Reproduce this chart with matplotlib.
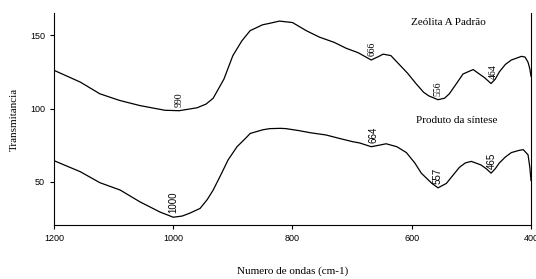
import matplotlib.pyplot as plt

# Espectros de infravermelho (leitura aproximada do gráfico)
top_wn = [1200, 1156, 1123, 1090, 1056, 1014, 990, 960, 945, 933, 915, 900, 885, 871, 850,
          838, 822, 800, 777, 755, 730, 710, 690, 668, 655, 648, 635, 621, 607, 593, 580,
          571, 556, 545, 537, 525, 514, 497, 485, 478, 467, 460, 453, 443, 433, 416, 410,
          405, 402, 400]
top_t = [126, 118, 110, 105.5, 102, 98.8, 98.5, 100.5, 103, 107, 120, 136, 146, 153, 157,
         158, 159.5, 158.5, 153, 148.6, 145, 141, 138, 133, 135.5, 137, 136, 130, 124, 117, 111,
         108.5, 106, 107, 110, 117, 123.5, 126.5, 123, 121, 117, 120, 125, 130, 133, 135.5, 135,
         131.5, 127, 122]

bot_wn = [1200, 1156, 1123, 1089, 1056, 1022, 1000, 985, 972, 955, 943, 933, 920, 908, 893,
          878, 871, 850, 838, 820, 811, 790, 770, 744, 720, 700, 687, 668, 655, 643, 625,
          609, 595, 584, 567, 556, 542, 530, 520, 510, 500, 484, 475, 467, 460, 453, 443,
          433, 420, 413, 405, 402, 400]
bot_t = [64.5, 57, 49.5, 44.5, 36.5, 29.5, 26, 26.8, 28.8, 32, 38, 44.5, 55, 65, 74,
         80, 83, 85.5, 86.3, 86.5, 86.3, 85, 83.5, 82, 79.5, 77.5, 76.5, 74, 75, 76, 74,
         70, 63, 56, 49.3, 46, 49, 55, 60, 63, 64, 61.6, 59, 56, 59, 63, 67,
         70, 71.5, 72, 68.5, 60, 51]

top_peaks = [990, 666, 556, 464]
top_peak_t = [98.5, 133, 106, 117]
bot_peaks = [1000, 664, 557, 465]
bot_peak_t = [26, 74, 46, 56]

fig = plt.figure(figsize=(5.36, 2.79), dpi=100)
ax = fig.add_axes([0.1007, 0.1935, 0.89, 0.7599])

ax.plot(top_wn, top_t, color='black', linewidth=0.9)
ax.plot(bot_wn, bot_t, color='black', linewidth=0.9)

for wn, t in zip(top_peaks, top_peak_t):
    ax.annotate(str(wn), (wn, t), xytext=(0, 3), textcoords='offset points',
                rotation=90, ha='center', va='bottom', fontsize=7, family='Liberation Serif')
for wn, t in zip(bot_peaks, bot_peak_t):
    ax.annotate(str(wn), (wn, t), xytext=(0, 3), textcoords='offset points',
                rotation=90, ha='center', va='bottom', fontsize=7, family='Liberation Sans')

ax.text(539, 158.8, 'Zeólita A Padrão', ha='center', va='center', fontsize=8, family='Liberation Serif')
ax.text(524, 92, 'Produto da síntese', ha='center', va='center', fontsize=8, family='Liberation Serif')

ax.set_xlim(1200, 400)
ax.set_ylim(20.7, 165)
ax.set_xticks([1200, 1000, 800, 600, 400])
ax.set_yticks([50, 100, 150])
ax.tick_params(labelsize=6.5, length=3, width=0.8)
for lbl in ax.get_xticklabels() + ax.get_yticklabels():
    lbl.set_family('Liberation Sans')

ax.spines['top'].set_visible(False)
for s in ['left', 'right', 'bottom']:
    ax.spines[s].set_linewidth(0.8)

ax.set_xlabel('Numero de ondas (cm-1)', fontsize=8, family='Liberation Serif', labelpad=17)
ax.set_ylabel('Transmitancia', fontsize=8, family='Liberation Serif', labelpad=8)

plt.savefig('out.png', dpi=100)
plt.close()
